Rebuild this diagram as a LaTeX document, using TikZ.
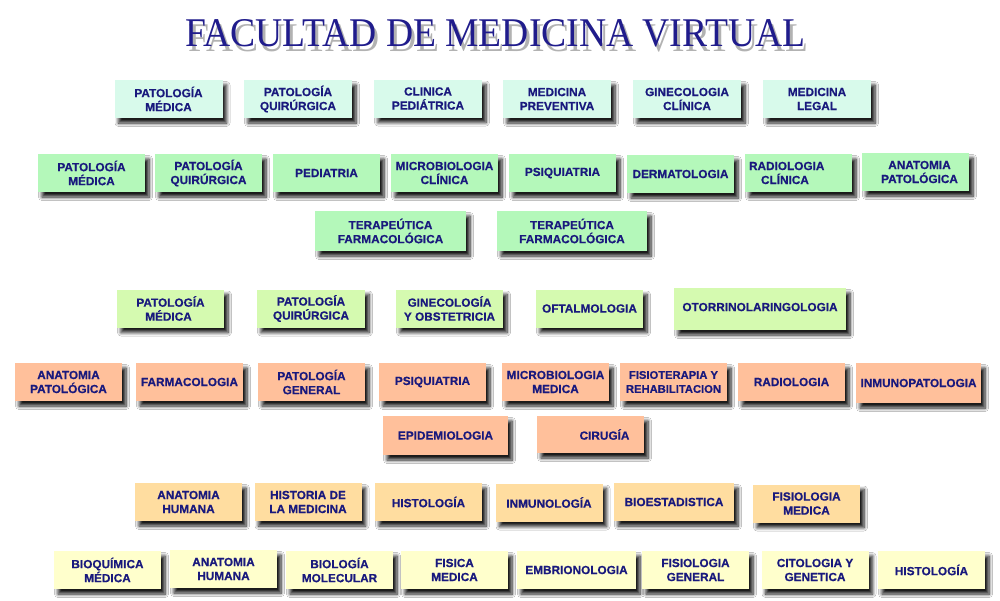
\documentclass[tikz,border=0pt]{standalone}
\usepackage{fontspec}
\setmainfont{Liberation Sans}[BoldFeatures={FakeBold=0.5}]
\newfontfamily\titlefont{Liberation Serif}
\usetikzlibrary{shadows.blur}
\definecolor{navy}{RGB}{25,25,125}
\definecolor{titleblue}{RGB}{32,28,140}
\definecolor{cMint}{RGB}{216,250,235}
\definecolor{cGreen}{RGB}{180,248,186}
\definecolor{cLime}{RGB}{213,250,176}
\definecolor{cPeach}{RGB}{255,192,155}
\definecolor{cTan}{RGB}{255,221,160}
\definecolor{cCream}{RGB}{255,255,204}
\tikzset{
  bx/.style={inner sep=0pt, text=navy, align=center,
    font=\bfseries\fontsize{11.8}{14}\selectfont,
    minimum width=107pt, minimum height=38pt,
    blur shadow={shadow xshift=4pt, shadow yshift=-5pt, shadow blur radius=3.5pt,
      shadow opacity=90, shadow blur steps=7}},
  bxMint/.style={bx, fill=cMint},
  bxGreen/.style={bx, fill=cGreen},
  bxLime/.style={bx, fill=cLime},
  bxPeach/.style={bx, fill=cPeach},
  bxTan/.style={bx, fill=cTan},
  bxCream/.style={bx, fill=cCream},
  titletxt/.style={inner sep=0pt, text=titleblue},
  titleshadow/.style={inner sep=0pt, text=black, opacity=0.3},
}
\begin{document}
\begin{tikzpicture}[x=1pt,y=-1pt]
\fill[white] (0,0) rectangle (1000,600);
\useasboundingbox (0,0) rectangle (1000,600);
% title with its shadow
\node[titleshadow] (titleshadow) at (498.5,38) {\resizebox{620pt}{27pt}{\titlefont FACULTAD DE MEDICINA VIRTUAL}};
\node[titletxt] (title) at (495.5,33.5) {\resizebox{620pt}{27pt}{\titlefont FACULTAD DE MEDICINA VIRTUAL}};
% row 1
\node[bxMint, minimum width=108pt] (r1a) at (168.5,99) {PATOLOGÍA\\MÉDICA};
\node[bxMint, minimum width=108pt] (r1b) at (298,99) {PATOLOGÍA\\QUIRÚRGICA};
\node[bxMint, minimum width=108pt] (r1c) at (428,98.5) {CLINICA\\PEDIÁTRICA};
\node[bxMint, minimum width=108pt] (r1d) at (557,99) {MEDICINA\\PREVENTIVA};
\node[bxMint, minimum width=108pt] (r1e) at (687,99) {GINECOLOGIA\\CLÍNICA};
\node[bxMint, minimum width=108pt] (r1f) at (817,99) {MEDICINA\\LEGAL};
% row 2
\node[bxGreen] (r2a) at (91.5,173) {PATOLOGÍA\\MÉDICA};
\node[bxGreen] (r2b) at (208.5,173) {PATOLOGÍA\\QUIRÚRGICA};
\node[bxGreen] (r2c) at (326.5,173) {PEDIATRIA};
\node[bxGreen] (r2d) at (444.5,173) {MICROBIOLOGIA\\CLÍNICA};
\node[bxGreen] (r2e) at (562.5,173) {PSIQUIATRIA};
\node[bxGreen] (r2f) at (680.5,174) {DERMATOLOGIA};
\node[bxGreen, text width=107pt, align=left] (r2g) at (798.5,173) {\hspace*{4pt}RADIOLOGIA\\\hspace*{16pt}CLÍNICA};
\node[bxGreen] (r2h) at (915.5,172) {\hspace*{8pt}ANATOMIA\\\hspace*{8pt}PATOLÓGICA};
\node[bxGreen, minimum width=151pt, minimum height=40pt] (r2i) at (390.5,231) {TERAPEÚTICA\\FARMACOLÓGICA};
\node[bxGreen, minimum width=150pt, minimum height=40pt] (r2j) at (572,231) {TERAPEÚTICA\\FARMACOLÓGICA};
% row 3
\node[bxLime] (r3a) at (170.5,308.5) {PATOLOGÍA\\MÉDICA\hspace*{4pt}};
\node[bxLime, minimum width=108pt] (r3b) at (311,308.5) {PATOLOGÍA\\QUIRÚRGICA};
\node[bxLime] (r3c) at (449.5,308.5) {GINECOLOGÍA\\Y OBSTETRICIA};
\node[bxLime] (r3d) at (589.5,308.5) {OFTALMOLOGIA};
\node[bxLime, minimum width=172pt, minimum height=42pt] (r3e) at (760,309) {\raisebox{4pt}{OTORRINOLARINGOLOGIA}};
% row 4
\node[bxPeach] (r4a) at (68.5,382) {ANATOMIA\\PATOLÓGICA};
\node[bxPeach] (r4b) at (189.5,382) {\raisebox{-3pt}{FARMACOLOGIA}};
\node[bxPeach] (r4c) at (311.5,382) {PATOLOGÍA\\GENERAL};
\node[bxPeach] (r4d) at (432.5,382) {PSIQUIATRIA};
\node[bxPeach] (r4e) at (555.5,382) {MICROBIOLOGIA\\MEDICA};
\node[bxPeach, font=\bfseries\fontsize{11.2}{14}\selectfont] (r4f) at (673.5,382) {FISIOTERAPIA Y\\REHABILITACION};
\node[bxPeach] (r4g) at (791.5,382) {RADIOLOGIA};
\node[bxPeach, minimum width=125pt, minimum height=40pt] (r4h) at (918.5,383) {INMUNOPATOLOGIA};
\node[bxPeach, minimum width=125pt, minimum height=39pt] (r4i) at (445.5,435.5) {EPIDEMIOLOGIA};
\node[bxPeach, minimum height=37pt] (r4j) at (590.5,434.5) {\hspace*{28pt}CIRUGÍA};
% row 5
\node[bxTan] (r5a) at (188.5,502) {ANATOMIA\\HUMANA};
\node[bxTan] (r5b) at (308,502) {HISTORIA DE\\LA MEDICINA};
\node[bxTan] (r5c) at (428.5,502) {HISTOLOGÍA};
\node[bxTan] (r5d) at (549,502.5) {\raisebox{-2pt}{INMUNOLOGÍA}};
\node[bxTan, minimum width=120pt] (r5e) at (674,502) {\raisebox{-3pt}{BIOESTADISTICA}};
\node[bxTan] (r5f) at (806.5,503.5) {FISIOLOGIA\\MEDICA};
% row 6
\node[bxCream] (r6a) at (107.5,570) {BIOQUÍMICA\\MÉDICA};
\node[bxCream] (r6b) at (223.5,569) {ANATOMIA\\HUMANA};
\node[bxCream] (r6c) at (339.5,570) {BIOLOGÍA\\MOLECULAR};
\node[bxCream] (r6d) at (454.5,570) {FISICA\\MEDICA};
\node[bxCream, minimum width=119pt] (r6e) at (576.5,570) {EMBRIONOLOGIA};
\node[bxCream] (r6f) at (695.5,570) {FISIOLOGIA\\GENERAL};
\node[bxCream] (r6g) at (815,570) {CITOLOGIA Y\\GENETICA};
\node[bxCream] (r6h) at (931.5,570) {\raisebox{-2pt}{HISTOLOGÍA}};
\end{tikzpicture}
\end{document}
